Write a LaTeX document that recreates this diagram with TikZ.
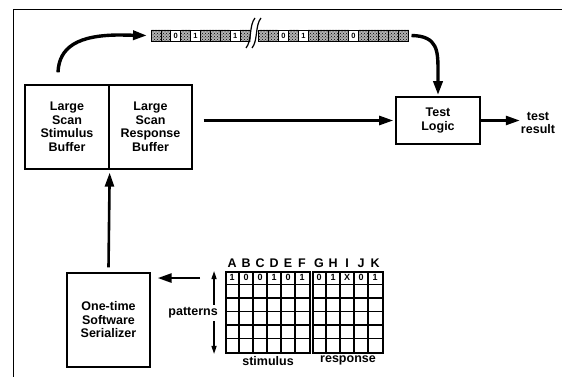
\documentclass[tikz,border=0pt]{standalone}
\usepackage{fontspec}
\setmainfont{Liberation Sans}
\usetikzlibrary{arrows.meta,positioning,calc,patterns}
\tikzset{
  block/.style={draw, line width=1.3pt, inner sep=0pt, align=center, font=\bfseries\fontsize{12.5}{13.5}\selectfont},
  flow/.style={-{Triangle[length=14pt,width=9pt]}, line width=2.6pt},
  curveflow/.style={flow, line width=3.4pt},
  note/.style={font=\bfseries\fontsize{12.5}{13}\selectfont, align=center, inner sep=1pt},
  tapecell/.style={draw, line width=0.8pt, preaction={fill=black!30}, pattern=crosshatch dots, pattern color=black},
  bitcell/.style={draw, line width=0.8pt, fill=white},
  tapebit/.style={font=\bfseries\fontsize{7.5}{7.5}\selectfont, inner sep=0pt},
  gridbox/.style={draw, line width=1.9pt, inner sep=0pt},
  gridline/.style={line width=1.5pt},
  bit/.style={font=\bfseries\fontsize{9}{9}\selectfont, inner sep=0pt},
  colname/.style={font=\bfseries\fontsize{12.5}{12}\selectfont, inner sep=0pt}
}

\begin{document}
\begin{tikzpicture}[x=1pt,y=1pt]
  \useasboundingbox (0,0) rectangle (562,377);
  \draw[line width=1pt] (13,0) -- (13,367) -- (562,367);

  % buffers and logic
  \node[block, minimum width=84pt, minimum height=84pt] (stim) at (67,250) {Large\\Scan\\Stimulus\\Buffer};
  \node[block, minimum width=83pt, minimum height=84pt] (resp) at (150.5,250) {Large\\Scan\\Response\\Buffer};
  \node[block, line width=1.6pt, minimum width=84pt, minimum height=47pt] (tlogic) at (438,256.5) {Test\\Logic};
  \node[note] (result) at (538,254) {test\\result};
  \node[block, minimum width=83pt, minimum height=94pt] (serial) at (108.5,57) {One-time\\Software\\Serializer};

  % scan tape
  \coordinate (tapeL) at (151,341.5);
  \coordinate (tapeR) at (408.5,341.5);
  \foreach \b [count=\i from 0] in {s,s,0,s,1,s,s,s,1,s}{
    \if s\b
      \draw[tapecell] ({151+9.9*\i},336) rectangle ++(9.9,11);
    \else
      \draw[bitcell] ({151+9.9*\i},336) rectangle ++(9.9,11);
      \node[tapebit] at ({151+9.9*\i+4.95},341.5) {\b};
    \fi
  }
  \foreach \b [count=\i from 0] in {s,s,0,s,1,s,s,s,s,0,s,s,s,s,s}{
    \if s\b
      \draw[tapecell] ({258.5+10*\i},336) rectangle ++(10,11);
    \else
      \draw[bitcell] ({258.5+10*\i},336) rectangle ++(10,11);
      \node[tapebit] at ({258.5+10*\i+5},341.5) {\b};
    \fi
  }
  \fill[white] (250.4,334) -- (257.6,334) -- (258,349) -- (250.8,349) -- cycle;
  \draw[line width=1.2pt] (246,329) .. controls (252,336) and (249,352) .. (255,359);
  \draw[line width=1.2pt] (252,329) .. controls (258,336) and (255,352) .. (261,359);

  % pattern table
  \node[gridbox, minimum width=84pt, minimum height=81pt] (stimgrid) at (268,64.5) {};
  \node[gridbox, minimum width=70pt, minimum height=81pt] (respgrid) at (348,64.5) {};
  \foreach \i in {1,...,5}{
    \draw[gridline] ([xshift=\i*14pt]stimgrid.north west) -- ([xshift=\i*14pt]stimgrid.south west);
    \draw[gridline] ([yshift=-\i*13.5pt]stimgrid.north west) -- ([yshift=-\i*13.5pt]stimgrid.north east);
    \draw[gridline] ([yshift=-\i*13.5pt]respgrid.north west) -- ([yshift=-\i*13.5pt]respgrid.north east);
  }
  \foreach \i in {1,...,4}
    \draw[gridline] ([xshift=\i*14pt]respgrid.north west) -- ([xshift=\i*14pt]respgrid.south west);
  \foreach \c/\v [count=\i from 0] in {A/1,B/0,C/0,D/1,E/0,F/1}{
    \node[colname] at ([shift={({\i*14+7},7.5)}]stimgrid.north west) {\c};
    \node[bit] at ([shift={({\i*14+7},-6.75)}]stimgrid.north west) {\v};
  }
  \foreach \c/\v [count=\i from 0] in {G/0,H/1,I/X,J/0,K/1}{
    \node[colname] at ([shift={({\i*14+7},7.5)}]respgrid.north west) {\c};
    \node[bit] at ([shift={({\i*14+7},-6.75)}]respgrid.north west) {\v};
  }
  \node[note, below=1pt of stimgrid] (stimlbl) {stimulus};
  \node[note, below=1pt of respgrid] (resplbl) {response};
  \draw[{Triangle[length=8pt,width=5pt]}-{Triangle[length=8pt,width=5pt]}, line width=1.3pt]
    ([xshift=-11pt]stimgrid.north west) -- ([xshift=-11pt]stimgrid.south west);
  \node[note, fill=white, inner sep=3pt, anchor=east] (patt) at (221,64) {patterns};

  % data flow
  \draw[curveflow] ([shift={(-9,12)}]stim.north) .. controls (59,330) and (78,342) .. (120,342) -- ([xshift=-4pt]tapeL);
  \draw[curveflow] ([xshift=3pt]tapeR) .. controls (438,341) and (438,326) .. (438,305) -- ([yshift=1pt]tlogic.north);
  \draw[flow] ([xshift=11pt]resp.east |- tlogic.west) -- ([xshift=-2pt]tlogic.west);
  \draw[flow] (tlogic.east) -- (result.west |- tlogic.east);
  \draw[flow] ([yshift=5pt]serial.north) -- ([yshift=-3pt]stim.south east);
  \coordinate (feed) at ([shift={(-25,-7)}]stimgrid.north west);
  \draw[flow] (feed) -- ([xshift=7pt]feed -| serial.east);
\end{tikzpicture}
\end{document}
